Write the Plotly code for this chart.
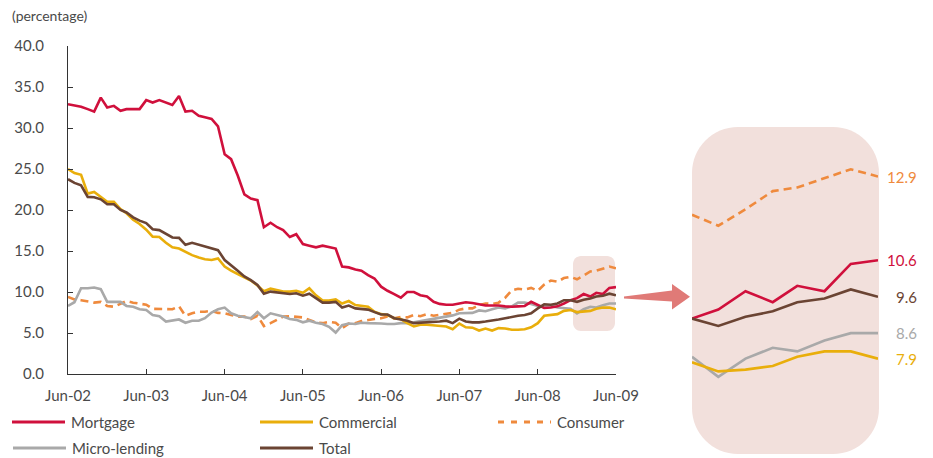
import pandas as pd
import plotly.graph_objects as go

# Monthly interest rates by loan type, Jun-2002 .. Jun-2009 (percentage)
months = pd.date_range("2002-06-01", "2009-06-01", freq="MS")

mortgage = [
    32.9, 32.75, 32.6, 32.3, 32.0, 33.7, 32.5, 32.7, 32.1, 32.3,
    32.3, 32.3, 33.4, 33.1, 33.4, 33.1, 32.8, 33.9, 32.0, 32.1,
    31.5, 31.3, 31.1, 30.2, 26.8, 26.2, 24.2, 21.9, 21.4, 21.2,
    17.9, 18.45, 17.9, 17.55, 16.7, 17.05, 15.85, 15.65, 15.45, 15.65,
    15.5, 15.3, 13.1, 13.0, 12.75, 12.6, 12.05, 11.65, 10.65, 10.15,
    9.75, 9.3, 10.0, 10.0, 9.6, 9.45, 8.8, 8.55, 8.45, 8.45,
    8.6, 8.75, 8.65, 8.45, 8.35, 8.35, 8.35, 8.25, 8.2, 8.25,
    8.3, 8.8, 8.4, 8.05, 8.1, 8.25, 8.6, 9.0, 9.25, 9.75,
    9.45, 9.9, 9.75, 10.5, 10.6,
]
commercial = [
    25.0, 24.5, 24.3, 22.0, 22.2, 21.6, 21.0, 21.0, 20.1, 19.6,
    18.8, 18.3, 17.6, 16.75, 16.7, 16.0, 15.45, 15.3, 14.9, 14.5,
    14.2, 14.0, 13.9, 14.1, 13.1, 12.6, 12.2, 11.8, 11.4, 10.8,
    10.1, 10.4, 10.2, 10.05, 10.05, 10.15, 9.9, 10.45, 9.6, 8.95,
    8.95, 9.1, 8.6, 8.9, 8.4, 8.3, 8.2, 7.6, 7.3, 7.2,
    6.8, 6.7, 6.2, 5.8, 6.0, 6.0, 5.95, 5.9, 5.8, 5.45,
    6.15, 5.7, 5.65, 5.3, 5.55, 5.3, 5.6, 5.55, 5.4, 5.4,
    5.45, 5.7, 6.2, 7.1, 7.2, 7.3, 7.7, 7.8, 7.55, 7.6,
    7.7, 7.95, 8.1, 8.1, 7.9,
]
consumer = [
    9.4, 9.1, 9.0, 8.8, 8.7, 8.8, 8.3, 8.2, 8.6, 8.9,
    8.7, 8.55, 8.45, 7.95, 7.95, 7.9, 7.9, 8.25, 7.1, 7.4,
    7.6, 7.6, 7.7, 7.45, 7.4, 7.2, 7.0, 7.0, 6.7, 7.1,
    5.85, 6.2, 6.6, 7.0, 7.05, 7.0, 6.9, 6.6, 6.3, 6.2,
    6.35, 6.25, 5.6, 6.15, 6.2, 6.45, 6.6, 6.7, 6.8, 7.0,
    6.8, 6.95, 6.9, 7.2, 7.05, 7.3, 7.1, 7.25, 7.35, 7.45,
    7.85, 8.0, 8.0, 8.4, 8.6, 8.55, 8.7, 9.3, 10.2, 10.4,
    10.3, 10.5, 10.15, 10.9, 11.4, 11.25, 11.7, 11.85, 11.55, 12.0,
    12.5, 12.6, 12.85, 13.1, 12.9,
]
micro_lending = [
    8.3, 8.75, 10.45, 10.45, 10.55, 10.35, 8.8, 8.8, 8.8, 8.3,
    8.2, 7.9, 7.8, 7.2, 7.05, 6.4, 6.5, 6.65, 6.25, 6.5,
    6.5, 6.8, 7.5, 7.9, 8.1, 7.4, 7.1, 6.9, 6.8, 7.55,
    6.8, 7.4, 7.2, 7.0, 6.7, 6.6, 6.3, 6.5, 6.25, 6.1,
    5.75, 5.05, 5.95, 6.15, 6.1, 6.25, 6.2, 6.2, 6.15, 6.1,
    6.1, 6.2, 6.2, 6.3, 6.45, 6.55, 6.7, 6.85, 7.0, 7.15,
    7.4, 7.45, 7.45, 7.75, 7.65, 7.9, 8.1, 8.0, 8.25, 8.7,
    8.7, 8.55, 8.3, 8.2, 8.3, 8.1, 8.05, 7.95, 7.4, 7.9,
    8.2, 8.1, 8.4, 8.6, 8.6,
]
total = [
    23.75, 23.3, 23.0, 21.6, 21.55, 21.3, 20.7, 20.7, 20.0, 19.7,
    19.1, 18.7, 18.4, 17.65, 17.55, 17.1, 16.65, 16.6, 15.75, 16.0,
    15.75, 15.55, 15.35, 15.1, 13.9, 13.3, 12.6, 11.9, 11.45, 10.85,
    9.8, 10.05, 9.95, 9.85, 9.75, 9.85, 9.55, 9.8, 9.2, 8.7,
    8.7, 8.8, 8.1, 8.35, 8.0, 7.9, 7.85, 7.55, 7.25, 7.25,
    6.8, 6.65, 6.5, 6.2, 6.25, 6.25, 6.3, 6.4, 6.5, 6.2,
    6.75, 6.4, 6.3, 6.3, 6.4, 6.5, 6.65, 6.8, 7.0, 7.1,
    7.2, 7.4, 8.0, 8.5, 8.45, 8.6, 9.0, 9.0, 8.8, 9.05,
    9.2, 9.45, 9.55, 9.8, 9.6,
]

ZOOM_MONTHS = 8  # trailing months shown in the magnified panel

W, H = 933, 458
FONT = "Lato, 'Open Sans', sans-serif"
TEXT = "#4a4a4a"


def fx(x):
    return x / W


def fy(y):
    return 1 - y / H


def rounded_rect(x0, y0, x1, y1, r):
    k = 0.5523 * r
    pts = [
        ("M", [(x0 + r, y0)]),
        ("L", [(x1 - r, y0)]),
        ("C", [(x1 - r + k, y0), (x1, y0 + r - k), (x1, y0 + r)]),
        ("L", [(x1, y1 - r)]),
        ("C", [(x1, y1 - r + k), (x1 - r + k, y1), (x1 - r, y1)]),
        ("L", [(x0 + r, y1)]),
        ("C", [(x0 + r - k, y1), (x0, y1 - r + k), (x0, y1 - r)]),
        ("L", [(x0, y0 + r)]),
        ("C", [(x0, y0 + r - k), (x0 + r - k, y0), (x0 + r, y0)]),
    ]
    out = []
    for cmd, coords in pts:
        out.append(cmd + " ".join(f"{fx(a):.5f},{fy(b):.5f}" for a, b in coords))
    return " ".join(out) + " Z"


def polygon(points):
    return "M" + " L".join(f"{fx(a):.5f},{fy(b):.5f}" for a, b in points) + " Z"


series = [
    ("Consumer", consumer, "#ef8a3d", "8px,5px"),
    ("Micro-lending", micro_lending, "#a9a9a9", "solid"),
    ("Commercial", commercial, "#e9ae0b", "solid"),
    ("Mortgage", mortgage, "#d0103c", "solid"),
    ("Total", total, "#6b4433", "solid"),
]

fig = go.Figure()
for name, vals, color, dash in series:
    fig.add_trace(go.Scatter(
        x=months, y=vals, name=name, mode="lines",
        line=dict(color=color, width=2.6, dash=dash),
        xaxis="x", yaxis="y", showlegend=False, hoverinfo="skip",
    ))
for name, vals, color, dash in series:
    fig.add_trace(go.Scatter(
        x=months[-ZOOM_MONTHS:], y=vals[-ZOOM_MONTHS:], name=name, mode="lines",
        line=dict(color=color, width=2.6, dash=dash),
        xaxis="x2", yaxis="y2", showlegend=False, hoverinfo="skip",
    ))

shapes = [
    # magnified panel background
    dict(type="path", xref="paper", yref="paper", layer="below",
         path=rounded_rect(692, 127, 879, 454, 46),
         fillcolor="#f2e0dc", line=dict(width=0)),
    # highlighted window on the main chart
    dict(type="path", xref="paper", yref="paper", layer="below",
         path=rounded_rect(573, 256, 615, 331, 8),
         fillcolor="#f2e0dc", line=dict(width=0)),
    # pointer arrow
    dict(type="path", xref="paper", yref="paper",
         path=polygon([(624, 296.5), (672, 290.5), (672, 284), (690, 296.7),
                       (672, 309.5), (672, 301.5), (624, 298.5)]),
         fillcolor="#e07a77", line=dict(width=0)),
]

annotations = [
    dict(text="(percentage)", x=fx(10), y=fy(15), xref="paper", yref="paper",
         xanchor="left", yanchor="middle", showarrow=False,
         font=dict(family=FONT, size=14, color=TEXT)),
]

# end-value labels beside the magnified panel
for name, vals, color, dash in series:
    annotations.append(dict(
        text=f"{vals[-1]:.1f}", x=fx(919), y=vals[-1], xref="paper", yref="y2",
        xanchor="right", yanchor="middle", showarrow=False,
        font=dict(family=FONT, size=15, color=color),
    ))

# legend drawn as line samples with labels
legend_items = [
    ("Mortgage", 12, 422), ("Commercial", 260, 422), ("Consumer", 498, 422),
    ("Micro-lending", 13, 448), ("Total", 260, 448),
]
style = {name: (color, dash) for name, _, color, dash in series}
for name, x0, y0 in legend_items:
    color, dash = style[name]
    shapes.append(dict(
        type="line", xref="paper", yref="paper",
        x0=fx(x0), x1=fx(x0 + 53), y0=fy(y0), y1=fy(y0),
        line=dict(color=color, width=3, dash="6px,7px" if dash != "solid" else "solid"),
    ))
    annotations.append(dict(
        text=name, x=fx(x0 + 57), y=fy(y0), xref="paper", yref="paper",
        xanchor="left", yanchor="middle", showarrow=False,
        font=dict(family=FONT, size=15, color=TEXT),
    ))

fig.update_layout(
    width=W, height=H,
    margin=dict(l=0, r=0, t=0, b=0),
    paper_bgcolor="white", plot_bgcolor="rgba(0,0,0,0)",
    font=dict(family=FONT, size=15, color=TEXT),
    xaxis=dict(
        domain=[fx(68), fx(616)],
        range=[months[0], months[-1]],
        tickvals=months[::12], tickformat="%b-%y",
        ticks="inside", ticklen=5, tickcolor="#333", tickwidth=1,
        showline=True, linecolor="#333", linewidth=1,
        showgrid=False, zeroline=False, automargin=False,
        ticklabelstandoff=8,
        tickfont=dict(family=FONT, size=15, color=TEXT),
        anchor="y",
    ),
    yaxis=dict(
        domain=[fy(374), fy(46)],
        range=[0, 40], dtick=5, tick0=0, tickformat=".1f",
        ticks="inside", ticklen=5, tickcolor="#333", tickwidth=1,
        showline=True, linecolor="#333", linewidth=1,
        showgrid=False, zeroline=False, automargin=False,
        ticklabelstandoff=20,
        tickfont=dict(family=FONT, size=15, color=TEXT),
        anchor="x",
    ),
    xaxis2=dict(
        domain=[fx(692), fx(878)],
        range=[months[-ZOOM_MONTHS], months[-1]],
        visible=False, anchor="y2",
    ),
    yaxis2=dict(
        domain=[fy(453), fy(127)],
        range=[5.31, 14.26],
        visible=False, anchor="x2",
    ),
    shapes=shapes,
    annotations=annotations,
)

fig.write_html("out.html")
